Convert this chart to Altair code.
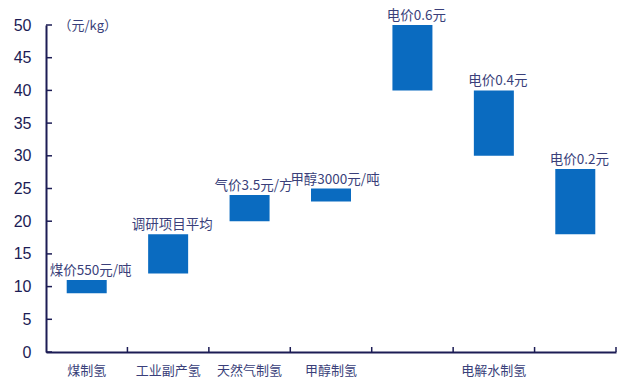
import altair as alt
import pandas as pd

categories = ["煤制氢", "工业副产氢", "天然气制氢", "甲醇制氢",
              "电解水制氢 0.6", "电解水制氢 0.4", "电解水制氢 0.2"]
low = [9, 12, 20, 23, 40, 30, 18]
high = [11, 18, 24, 25, 50, 40, 28]
notes = ["煤价550元/吨", "调研项目平均", "气价3.5元/方", "甲醇3000元/吨",
         "电价0.6元", "电价0.4元", "电价0.2元"]
y_ticks = list(range(0, 51, 5))

df = pd.DataFrame({"cat": categories, "low": low, "high": high, "note": notes})
tdf = pd.DataFrame({"v": y_ticks})

navy = "#1c1c55"
txt = "#3a3f7a"
font = "Noto Sans CJK SC"

xscale = alt.Scale(domain=categories, paddingInner=0, paddingOuter=0)
x = alt.X("cat:N", sort=categories, title=None, scale=xscale,
          axis=alt.Axis(
              labelExpr="datum.value == '电解水制氢 0.4' ? '电解水制氢' : (indexof(datum.value, '电解水制氢') == 0 ? '' : datum.value)",
              labelAngle=0, labelFontSize=13, labelColor=txt, labelFont=font,
              labelPadding=12, ticks=False, domainColor=navy, domainWidth=2))

yscale = alt.Scale(domain=[0, 50], nice=False)
yaxis = alt.Axis(values=y_ticks, grid=False, labelOverlap=False, tickCount=11,
                 labelFontSize=16, labelColor=navy, labelFont="Liberation Sans",
                 ticks=False, domainColor=navy, domainWidth=2, labelPadding=15,
                 titleAngle=0, titleX=12, titleY=7, titleAlign="left",
                 titleFontSize=13, titleFontWeight="normal", titleColor=txt,
                 titleFont=font)

bars = alt.Chart(df).mark_bar(color="#0a6bc0", size=40).encode(
    x=x, y=alt.Y("low:Q", title="（元/kg）", scale=yscale, axis=yaxis), y2="high:Q")

xticks = alt.Chart(df).mark_rule(color=navy, strokeWidth=1.5).encode(
    x=alt.X("cat:N", sort=categories, bandPosition=1),
    y=alt.value(322), y2=alt.value(327))

yticks = alt.Chart(tdf).mark_rule(color=navy, strokeWidth=1.5).encode(
    y=alt.Y("v:Q", title="（元/kg）", scale=yscale, axis=yaxis),
    x=alt.value(0), x2=alt.value(6))

labels = alt.Chart(df).mark_text(baseline="alphabetic", dy=-5, dx=4, fontSize=13.5,
                                 color=txt, font=font).encode(
    x=alt.X("cat:N", sort=categories),
    y=alt.Y("high:Q", title="（元/kg）", scale=yscale, axis=yaxis),
    text="note:N")

chart = (bars + xticks + yticks + labels).properties(
    width=570, height=327,
    autosize=alt.AutoSizeParams(type="none"),
    padding={"left": 38, "top": 17, "right": 10, "bottom": 30},
    background="white",
).configure_view(stroke=None)

chart.save("out.html", embed_options={"renderer": "svg", "actions": False})
